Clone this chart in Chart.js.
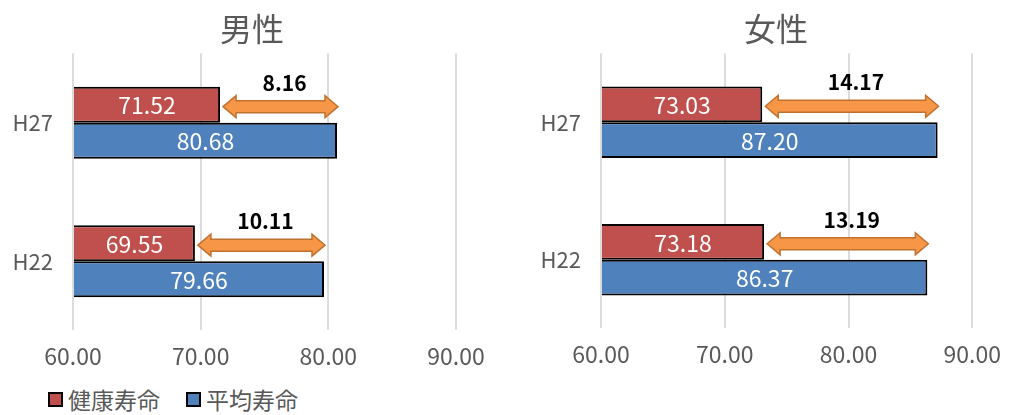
<!DOCTYPE html>
<html lang="ja">
<head>
<meta charset="utf-8">
<script src="https://cdn.jsdelivr.net/npm/chart.js@4"></script>
<style>
  html, body { margin: 0; padding: 0; background: #fff; }
  body { width: 1013px; height: 415px; position: relative; overflow: hidden; font-family: 'Noto Sans CJK JP', sans-serif; }
  .panel { position: absolute; top: 0; }
  #boxMale { left: 0; }
  #boxFemale { left: 506px; }
  .legend { position: absolute; left: 48px; top: 384px; height: 30px; display: flex; align-items: center; font-size: 23px; color: #595959; }
  .legend .item { display: flex; align-items: center; margin-right: 26px; }
  .legend .sw { display: inline-block; width: 11px; height: 11px; border: 2px solid #000; margin-right: 5px; }
</style>
</head>
<body>
<div class="panel" id="boxMale"><canvas id="chartMale" width="506" height="382"></canvas></div>
<div class="panel" id="boxFemale"><canvas id="chartFemale" width="507" height="380"></canvas></div>
<div class="legend" id="legend"></div>

<script>
// ===== datos =====
const CATEGORIES = ['H27', 'H22'];
const SERIES = ['健康寿命', '平均寿命'];
const SERIES_COLORS = ['#C0504D', '#4F81BD'];

const MALE_HEALTHY = [71.52, 69.55];
const MALE_AVERAGE = [80.68, 79.66];
const MALE_GAP = [8.16, 10.11];      // as printed on the chart

const FEMALE_HEALTHY = [73.03, 73.18];
const FEMALE_AVERAGE = [87.20, 86.37];
const FEMALE_GAP = [14.17, 13.19];

const X_MIN = 60, X_MAX = 90, X_STEP = 10;

const FONT = "'Noto Sans CJK JP', 'Noto Sans', sans-serif";
const GRAY = '#595959';

// ===== plugins =====
// category labels (drawn here so they are not clipped by the narrow axis box)
const catLabels = {
  id: 'catLabels',
  afterDraw(chart) {
    const ctx = chart.ctx;
    const ys = chart.scales.y;
    ctx.save();
    ctx.font = `22px ${FONT}`;
    ctx.fillStyle = GRAY;
    ctx.textAlign = 'right';
    ctx.textBaseline = 'middle';
    ys.getLabels().forEach((lab, i) => {
      ctx.fillText(lab, chart.chartArea.left - 20, ys.getPixelForTick(i));
    });
    ctx.restore();
  }
};

// value inside each bar
const barLabels = {
  id: 'barLabels',
  afterDatasetsDraw(chart) {
    const ctx = chart.ctx;
    ctx.save();
    ctx.font = `23px ${FONT}`;
    ctx.fillStyle = '#fff';
    ctx.textAlign = 'center';
    ctx.textBaseline = 'middle';
    chart.data.datasets.forEach((ds, di) => {
      chart.getDatasetMeta(di).data.forEach((bar, i) => {
        const x = (bar.x + bar.base) / 2;
        ctx.fillText(ds.data[i].toFixed(2), x, bar.y + 1);
      });
    });
    ctx.restore();
  }
};

// orange double arrow between the two bar ends + gap label
const gapArrows = {
  id: 'gapArrows',
  afterDatasetsDraw(chart, args, opts) {
    const ctx = chart.ctx;
    const xs = chart.scales.x;
    const healthy = chart.data.datasets[0].data;
    const average = chart.data.datasets[1].data;
    const meta = chart.getDatasetMeta(0);
    ctx.save();
    healthy.forEach((h, i) => {
      const x1 = xs.getPixelForValue(h) + 3;
      const x2 = xs.getPixelForValue(average[i]) + 1;
      const y = meta.data[i].y + 2;
      const hl = 13, hh = 11, sh = 6;
      ctx.beginPath();
      ctx.moveTo(x1, y);
      ctx.lineTo(x1 + hl, y - hh);
      ctx.lineTo(x1 + hl, y - sh);
      ctx.lineTo(x2 - hl, y - sh);
      ctx.lineTo(x2 - hl, y - hh);
      ctx.lineTo(x2, y);
      ctx.lineTo(x2 - hl, y + hh);
      ctx.lineTo(x2 - hl, y + sh);
      ctx.lineTo(x1 + hl, y + sh);
      ctx.lineTo(x1 + hl, y + hh);
      ctx.closePath();
      ctx.fillStyle = '#F79646';
      ctx.fill();
      ctx.lineWidth = 1.5;
      ctx.strokeStyle = '#C0712F';
      ctx.stroke();

      ctx.font = `bold 21px ${FONT}`;
      ctx.fillStyle = '#000';
      ctx.textAlign = 'center';
      ctx.textBaseline = 'middle';
      ctx.fillText(opts.gaps[i].toFixed(2), (x1 + x2) / 2 + 4, y - 24);
    });
    ctx.restore();
  }
};

// ===== chart helper =====
function renderPanel(canvasId, title, healthy, average, gaps, pad, axisWidth) {
  return new Chart(document.getElementById(canvasId), {
    type: 'bar',
    data: {
      labels: CATEGORIES,
      datasets: [
        { label: SERIES[0], data: healthy, backgroundColor: SERIES_COLORS[0] },
        { label: SERIES[1], data: average, backgroundColor: SERIES_COLORS[1] }
      ]
    },
    options: {
      indexAxis: 'y',
      responsive: false,
      animation: false,
      layout: { padding: { left: pad[0], right: pad[1], top: 0, bottom: 0 } },
      datasets: {
        bar: {
          base: X_MIN,
          borderColor: '#000',
          borderWidth: 2,
          categoryPercentage: 0.52,
          barPercentage: 1
        }
      },
      scales: {
        x: {
          type: 'linear',
          min: X_MIN,
          max: X_MAX,
          ticks: {
            stepSize: X_STEP,
            maxRotation: 0,
            padding: 12,
            color: GRAY,
            font: { family: FONT, size: 23 },
            callback: v => v.toFixed(2)
          },
          grid: { color: '#dcdcdc', lineWidth: 2, drawTicks: false },
          border: { display: false }
        },
        y: {
          ticks: { display: false },
          grid: { display: false, drawTicks: false },
          border: { display: false },
          afterFit: s => { s.width = axisWidth; }
        }
      },
      plugins: {
        legend: { display: false },
        tooltip: { enabled: false },
        title: {
          display: true,
          text: title,
          color: GRAY,
          font: { family: FONT, size: 32, weight: 'normal' },
          padding: { top: 10, bottom: 5 }
        },
        gapArrows: { gaps }
      }
    },
    plugins: [catLabels, barLabels, gapArrows]
  });
}

renderPanel('chartMale', '男性', MALE_HEALTHY, MALE_AVERAGE, MALE_GAP, [48, 50], 25);
renderPanel('chartFemale', '女性', FEMALE_HEALTHY, FEMALE_AVERAGE, FEMALE_GAP, [68, 35], 27);

// ===== leyenda =====
document.getElementById('legend').innerHTML = SERIES.map((s, i) =>
  `<span class="item"><span class="sw" style="background:${SERIES_COLORS[i]}"></span>${s}</span>`
).join('');
</script>
</body>
</html>
